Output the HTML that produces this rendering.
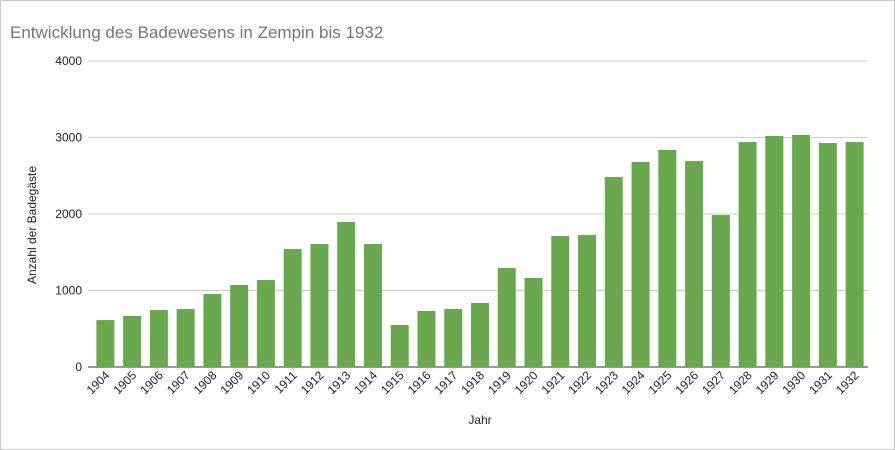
<!DOCTYPE html>
<html><head><meta charset="utf-8"><style>
body{margin:0;background:#fff;}
svg{display:block;font-family:"Liberation Sans",Arial,sans-serif;}
</style></head><body>
<svg width="895" height="450" viewBox="0 0 895 450">
<rect x="0.5" y="0.5" width="894" height="449" fill="#fff" stroke="#c8c8c8"/>
<text x="10" y="38" font-size="17" fill="#757575">Entwicklung des Badewesens in Zempin bis 1932</text>
<g id="grid"></g>
<g id="bars"></g>
<g id="xlabels"></g>
<text transform="translate(36,225) rotate(-90)" text-anchor="middle" font-size="12" fill="#222">Anzahl der Badegäste</text>
<text x="480" y="424" text-anchor="middle" font-size="12" fill="#222">Jahr</text>
</svg>
<script>
const years=["1904","1905","1906","1907","1908","1909","1910","1911","1912","1913","1914","1915","1916","1917","1918","1919","1920","1921","1922","1923","1924","1925","1926","1927","1928","1929","1930","1931","1932"];
const guests=[614,667,745,758,954,1072,1137,1542,1608,1895,1608,549,732,758,837,1294,1163,1712,1725,2484,2680,2837,2693,1987,2941,3020,3033,2928,2941];
const yTicks=[0,1000,2000,3000,4000];
const NS="http://www.w3.org/2000/svg";
const plotLeft=92,plotRight=868,plotTop=61,plotBottom=367,yMax=4000;
function yScale(v){return plotBottom-(v/yMax)*(plotBottom-plotTop);}
const band=(plotRight-plotLeft)/years.length;
function xScale(i){return plotLeft+band*i+band/2;}
const grid=document.getElementById('grid');
yTicks.forEach(t=>{
 const l=document.createElementNS(NS,'line');
 l.setAttribute('x1',88);l.setAttribute('x2',plotRight);l.setAttribute('y1',yScale(t));l.setAttribute('y2',yScale(t));
 l.setAttribute('stroke',t===0?'#333':'#ccc');l.setAttribute('stroke-width',1);
 
 
 grid.appendChild(l);
 const tx=document.createElementNS(NS,'text');
 tx.setAttribute('x',82);tx.setAttribute('y',yScale(t)+4);tx.setAttribute('text-anchor','end');
 tx.setAttribute('font-size','12');tx.setAttribute('fill','#222');tx.textContent=t;
 
 
 grid.appendChild(tx);
});
const barsG=document.getElementById('bars'),xl=document.getElementById('xlabels');
const bw=18;
guests.forEach((v,i)=>{
 const r=document.createElementNS(NS,'rect');
 r.setAttribute('x',xScale(i)-bw/2);r.setAttribute('y',yScale(v));r.setAttribute('width',bw);r.setAttribute('height',plotBottom-yScale(v));
 r.setAttribute('fill','#6aa84f');
 
 
 barsG.appendChild(r);
 const t=document.createElementNS(NS,'text');
 t.setAttribute('transform','translate('+(xScale(i)+5)+',376) rotate(-45)');
 t.setAttribute('text-anchor','end');t.setAttribute('font-size','12');t.setAttribute('fill','#222');
 t.textContent=years[i];
 
 
 xl.appendChild(t);
});
</script>
</body></html>
